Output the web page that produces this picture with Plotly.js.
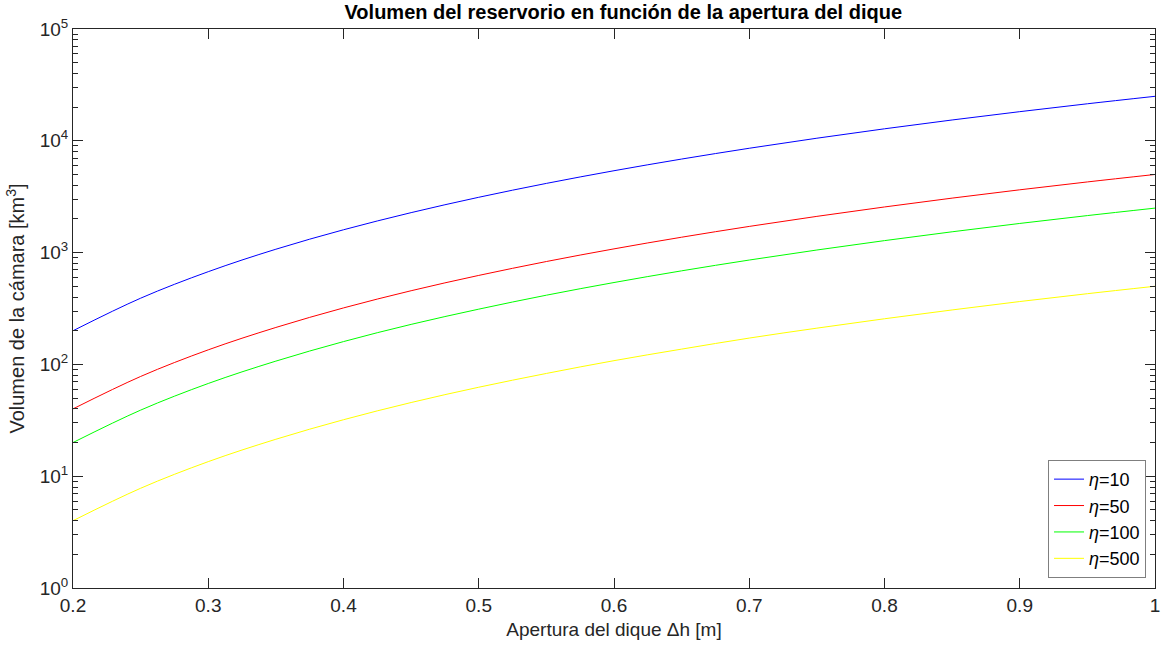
<!DOCTYPE html>
<html>
<head>
<meta charset="utf-8">
<script src="https://cdn.plot.ly/plotly-3.0.1.min.js"></script>
<style>html,body{margin:0;padding:0;background:#fff;}#chart{width:1165px;height:650px;}</style>
</head>
<body>
<div id="chart"></div>
<script>
// Data
const apertura = [0.2,0.25,0.3,0.35,0.4,0.45,0.5,0.55,0.6,0.65,0.7,0.75,0.8,0.85,0.9,0.95,1.0];
const eta10  = [200,391,675,1072,1600,2278,3125,4159,5400,6866,8575,10547,12800,15353,18225,21434,25000];
const eta50  = [40,78,135,214,320,456,625,832,1080,1373,1715,2109,2560,3071,3645,4287,5000];
const eta100 = [20,39,67.5,107,160,228,312,416,540,687,858,1055,1280,1535,1823,2143,2500];
const eta500 = [4,7.8,13.5,21.4,32,45.6,62.5,83,108,137,172,211,256,307,365,429,500];
const seriesNames = ['<i>η</i>=10','<i>η</i>=50','<i>η</i>=100','<i>η</i>=500'];
const seriesColors = ['#0000ff','#ff0000','#00ff00','#ffff00'];
const yMajor = [1,10,100,1000,10000,100000];
const yMajorText = ['10<sup>0</sup>','10<sup>1</sup>','10<sup>2</sup>','10<sup>3</sup>','10<sup>4</sup>','10<sup>5</sup>'];
const yMinorMult = [2,3,4,5,6,7,8,9];
const xTicks = [0.2,0.3,0.4,0.5,0.6,0.7,0.8,0.9,1];
const xTickText = ['0.2','0.3','0.4','0.5','0.6','0.7','0.8','0.9','1'];

const ys = [eta10, eta50, eta100, eta500];
const traces = ys.map((y,i)=>({
  x: apertura, y: y, type:'scatter', mode:'lines', name: seriesNames[i],
  line:{color: seriesColors[i], width:1, shape:'spline'}
}));

const yMinor = [];
yMajor.slice(0,-1).forEach(d => yMinorMult.forEach(k => yMinor.push(d*k)));

const axColor = '#262626';
const fam = 'Liberation Sans, Arial, Helvetica, sans-serif';
const layout = {
  width:1165, height:650,
  margin:{l:73, r:10, t:29, b:62},
  paper_bgcolor:'#fff', plot_bgcolor:'#fff',
  font: {family:fam, size:19, color:axColor},
  title:{text:'<b>Volumen del reservorio en función de la apertura del dique</b>', x:0.535, xanchor:'center', y:0.982, yanchor:'middle', font:{family:fam, size:20, color:'#000'}},
  xaxis:{
    range:[0.2,1], tickvals:xTicks, ticktext:xTickText, ticks:'inside', ticklen:10, tickwidth:1, tickcolor:axColor,
    showline:true, linecolor:axColor, linewidth:1, mirror:'ticks', showgrid:false, zeroline:false,
    tickfont:{size:19, color:axColor},
    title:{text:'Apertura del dique Δh [m]', font:{size:19, color:axColor}, standoff:7}
  },
  yaxis:{
    type:'log', range:[0,5], tickvals:yMajor, ticktext:yMajorText, ticks:'inside', ticklen:10, tickwidth:1, tickcolor:axColor,
    showline:true, linecolor:axColor, linewidth:1, mirror:'ticks', showgrid:false, zeroline:false,
    tickfont:{size:19, color:axColor},
    minor:{tickvals:yMinor, ticks:'inside', ticklen:5, tickwidth:1, tickcolor:axColor, showgrid:false},
    title:{text:'Volumen de la cámara [km<sup>3</sup>]', font:{size:20, color:axColor}, standoff:9}
  },
  legend:{x:0.9917, xanchor:'right', y:0.018, yanchor:'bottom', bgcolor:'#fff', bordercolor:'#7f7f7f', borderwidth:1,
    font:{size:18, color:'#000'}, tracegroupgap:0, itemwidth:30},
  showlegend:true
};
Plotly.newPlot('chart', traces, layout, {displayModeBar:false, staticPlot:true});
</script>
</body>
</html>
